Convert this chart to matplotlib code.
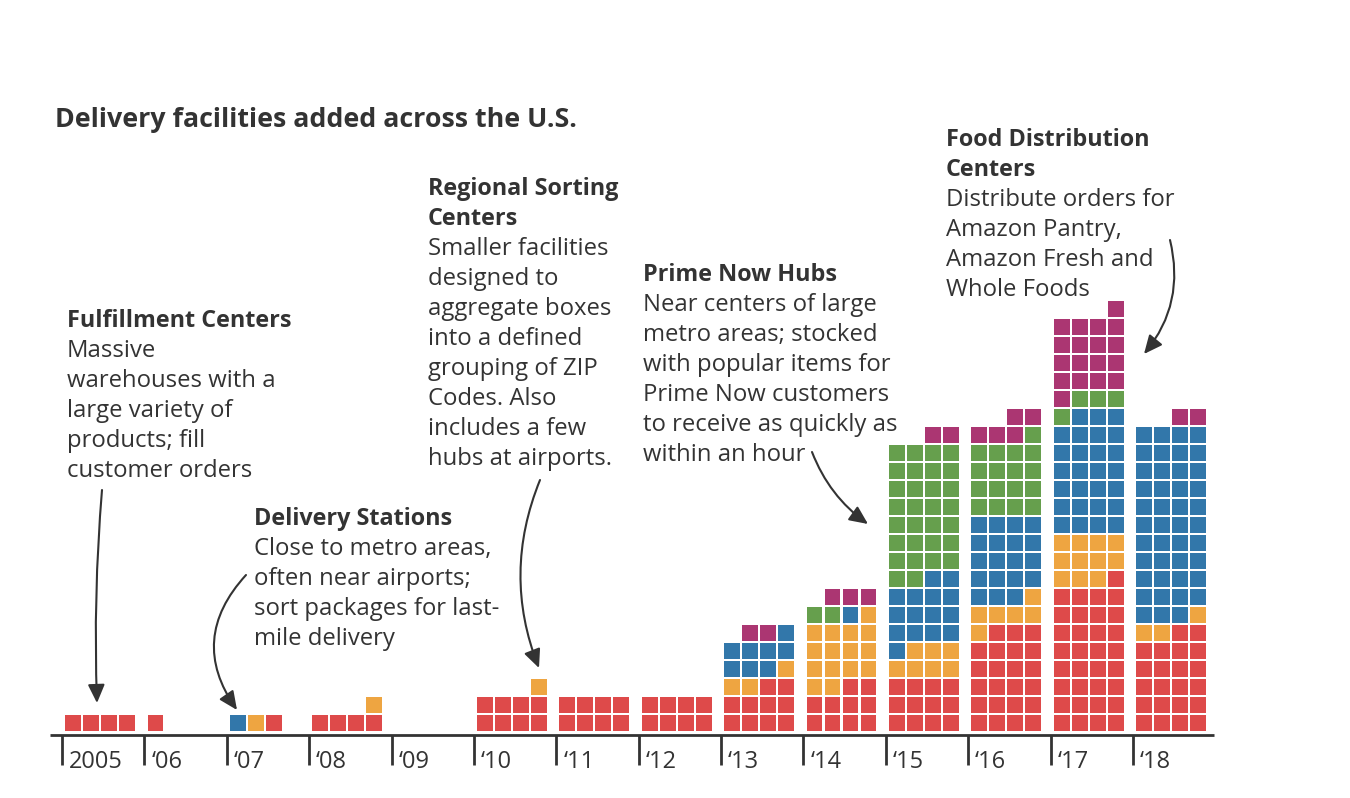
import matplotlib
matplotlib.use("Agg")
import matplotlib.pyplot as plt
from matplotlib.patches import Rectangle, FancyArrowPatch

plt.rcParams['font.family'] = ['Open Sans', 'DejaVu Sans']

# ---------------- data ----------------
years = [2005, 2006, 2007, 2008, 2009, 2010, 2011, 2012, 2013, 2014, 2015, 2016, 2017, 2018]
tick_labels = ["2005", "‘06", "‘07", "‘08", "‘09", "‘10", "‘11", "‘12", "‘13", "‘14", "‘15", "‘16", "‘17", "‘18"]
fulfillment_centers = [4, 1, 1, 4, 0, 8, 8, 8, 10, 10, 12, 23, 33, 22]
delivery_stations   = [0, 0, 1, 1, 0, 1, 0, 0, 3, 15, 7, 6, 11, 3]
sorting_centers     = [0, 0, 1, 0, 0, 0, 0, 0, 8, 1, 15, 19, 27, 43]
prime_now_hubs      = [0, 0, 0, 0, 0, 0, 0, 0, 0, 2, 30, 17, 4, 0]
food_centers        = [0, 0, 0, 0, 0, 0, 0, 0, 2, 3, 2, 5, 18, 2]

series = [fulfillment_centers, delivery_stations, sorting_centers, prime_now_hubs, food_centers]
colors = ["#DE4A4A", "#EEA541", "#3277AA", "#669F4D", "#AB3672"]
TXT = "#333333"

# ---------------- layout ----------------
W, H = 1350, 798
fig = plt.figure(figsize=(W / 100, H / 100), dpi=100)
ax = fig.add_axes([0, 0, 1, 1])
ax.set_xlim(0, W)
ax.set_ylim(H, 0)
ax.axis("off")

x_first_tick = 62.0
year_step = 82.38
cell_pitch = 18.0
cell_size = 15.8
base_y = 735.0
cell_bottom = 730.5
per_row = 4

for i, yr in enumerate(years):
    tick_x = x_first_tick + i * year_step
    seq = []
    for s_idx, s in enumerate(series):
        seq += [s_idx] * s[i]
    total = len(seq)
    for k, cat in enumerate(seq):
        row = k // per_row
        pos_from_right = k % per_row
        if total < per_row:
            col = (total - 1) - pos_from_right
        else:
            col = (per_row - 1) - pos_from_right
        x = tick_x + 3.2 + col * cell_pitch
        y = cell_bottom - cell_size - row * cell_pitch
        ax.add_patch(Rectangle((x, y), cell_size, cell_size, facecolor=colors[cat],
                               edgecolor="none"))
    # tick
    ax.plot([tick_x, tick_x], [base_y, 765], color=TXT, lw=2.0, solid_capstyle="butt")
    ax.text(tick_x + 7, 768, tick_labels[i], fontsize=17, color=TXT, va="baseline", ha="left")

ax.plot([50, 1214], [base_y, base_y], color=TXT, lw=2.0, solid_capstyle="butt")

# ---------------- title ----------------
ax.text(55, 127, "Delivery facilities added across the U.S.", fontsize=19.3, fontweight="bold",
        color=TXT, va="baseline", ha="left")

# ---------------- annotations ----------------
def note(x, y0, heading_lines, body_lines, dy=30):
    y = y0
    for h in heading_lines:
        ax.text(x, y, h, fontsize=16.8, fontweight="bold", color=TXT, va="baseline", ha="left")
        y += dy
    for b in body_lines:
        ax.text(x, y, b, fontsize=17.2, color=TXT, va="baseline", ha="left")
        y += dy

note(67, 327, ["Fulfillment Centers"],
     ["Massive", "warehouses with a", "large variety of", "products; fill", "customer orders"])
note(254, 525, ["Delivery Stations"],
     ["Close to metro areas,", "often near airports;", "sort packages for last-", "mile delivery"])
note(428, 195, ["Regional Sorting", "Centers"],
     ["Smaller facilities", "designed to", "aggregate boxes", "into a defined",
      "grouping of ZIP", "Codes. Also", "includes a few", "hubs at airports."])
note(643, 281, ["Prime Now Hubs"],
     ["Near centers of large", "metro areas; stocked", "with popular items for",
      "Prime Now customers", "to receive as quickly as", "within an hour"])
note(946, 146, ["Food Distribution", "Centers"],
     ["Distribute orders for", "Amazon Pantry,", "Amazon Fresh and", "Whole Foods"])

# ---------------- arrows ----------------
def arrow(p0, p1, rad):
    a = FancyArrowPatch(p0, p1, connectionstyle=f"arc3,rad={rad}",
                        arrowstyle="-|>,head_length=0.7,head_width=0.32",
                        mutation_scale=16, color=TXT, lw=1.5, shrinkA=0, shrinkB=0)
    ax.add_patch(a)

arrow((102, 490), (97, 703), 0.03)
arrow((246, 575), (237, 710), 0.4)
arrow((540, 480), (539, 668), 0.2)
arrow((812, 452), (868, 524), 0.15)
arrow((1170, 240), (1144, 354), -0.25)

fig.savefig("out.png", dpi=100, facecolor="white")
